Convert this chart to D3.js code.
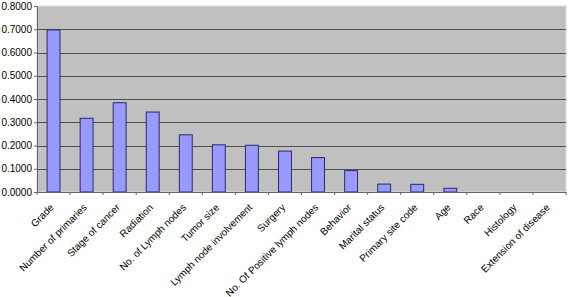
<!DOCTYPE html>
<html>
<head>
<meta charset="utf-8">
<script src="https://cdn.jsdelivr.net/npm/d3@7"></script>
<style>
  body { margin: 0; background: #fff; }
  text { font-family: "Liberation Sans", Arial, sans-serif; fill: #000; }
</style>
</head>
<body>
<div id="chart"></div>
<script>
// Data
const categories = ["Grade", "Number of primaries", "Stage of cancer", "Radiation",
  "No. of Lymph nodes", "Tumor size", "Lymph node involvement", "Surgery",
  "No. Of Positive lymph nodes", "Behavior", "Marital status", "Primary site code",
  "Age", "Race", "Histology", "Extension of disease"];
const values = [0.697, 0.317, 0.384, 0.344, 0.246, 0.203, 0.201, 0.176,
  0.148, 0.092, 0.034, 0.033, 0.016, 0, 0, 0];
const yTicks = [0, 0.1, 0.2, 0.3, 0.4, 0.5, 0.6, 0.7, 0.8];

const width = 574;
const height = 297;
const margin = { top: 6, right: 8, bottom: 105, left: 37 };

const svg = d3.select("#chart")
    .append("svg")
    .attr("width", width)
    .attr("height", height);

const x = d3.scaleBand()
    .domain(categories)
    .range([margin.left, width - margin.right])
    .paddingInner(0.61)
    .paddingOuter(0.305);

const y = d3.scaleLinear()
    .domain([0, 0.8])
    .range([height - margin.bottom, margin.top]);

// Plot background
svg.append("rect")
    .attr("x", margin.left)
    .attr("y", margin.top)
    .attr("width", width - margin.right - margin.left)
    .attr("height", y(0) - margin.top)
    .attr("fill", "#c0c0c0")
    .attr("stroke", "#dcdcdc");

// Gridlines
svg.selectAll("line.grid")
    .data(yTicks.slice(1, -1))
    .join("line")
    .attr("class", "grid")
    .attr("x1", margin.left)
    .attr("x2", width - margin.right)
    .attr("y1", d => Math.round(y(d)) + 0.5)
    .attr("y2", d => Math.round(y(d)) + 0.5)
    .attr("stroke", "#505050")
    .attr("stroke-width", 1);

// Bars
svg.selectAll("rect.bar")
    .data(values)
    .join("rect")
    .attr("class", "bar")
    .attr("x", (d, i) => x(categories[i]))
    .attr("y", d => y(d))
    .attr("width", x.bandwidth())
    .attr("height", d => y(0) - y(d))
    .attr("fill", "#9999ff")
    .attr("stroke", "#2a2a6a")
    .attr("stroke-width", 1);

// Y axis
const yAxis = svg.append("g")
    .attr("transform", `translate(${margin.left},0)`)
    .call(d3.axisLeft(y).tickValues(yTicks).tickFormat(d3.format(".4f")).tickSize(3).tickPadding(2));
yAxis.select(".domain").attr("stroke", "#666");
yAxis.selectAll(".tick line").attr("stroke", "#666");
yAxis.selectAll("text").attr("font-size", 10).attr("font-family", "Liberation Sans, Arial, sans-serif");

// X axis
const xAxis = svg.append("g")
    .attr("transform", `translate(0,${y(0)})`)
    .call(d3.axisBottom(x).tickSize(0).tickSizeOuter(0));
xAxis.select(".domain").attr("stroke", "#666");

// Tick marks between categories
const step = x.step();
svg.selectAll("line.xtick")
    .data(d3.range(categories.length + 1))
    .join("line")
    .attr("class", "xtick")
    .attr("x1", i => margin.left + i * step)
    .attr("x2", i => margin.left + i * step)
    .attr("y1", y(0))
    .attr("y2", y(0) + 3)
    .attr("stroke", "#666");

xAxis.selectAll("text")
    .attr("font-size", 10)
    .attr("font-family", "Liberation Sans, Arial, sans-serif")
    .attr("text-anchor", "end")
    .attr("dy", null)
    .attr("y", 0)
    .attr("transform", "translate(1,16) rotate(-45)");
</script>
</body>
</html>
